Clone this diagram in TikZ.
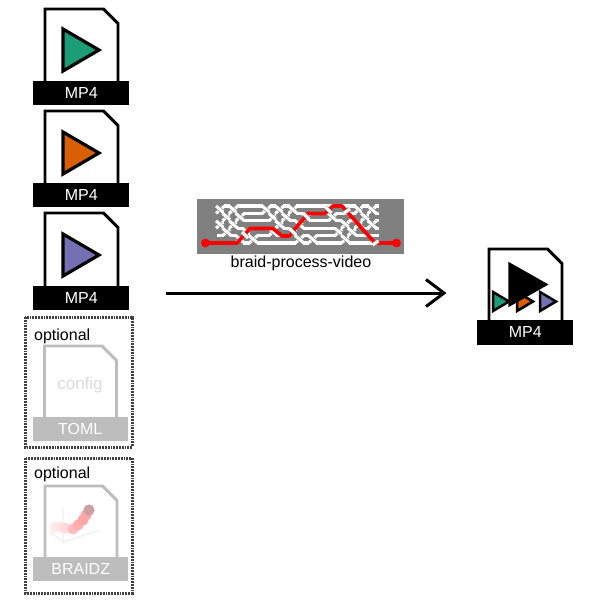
\documentclass[tikz,border=0pt]{standalone}
\usepackage{fontspec}
\setmainfont{Liberation Sans}
\usetikzlibrary{arrows.meta}
\definecolor{dgreen}{HTML}{1B9E77}
\definecolor{dorange}{HTML}{D95F02}
\definecolor{dblue}{HTML}{7570B3}
\definecolor{faint}{gray}{0.74}
\definecolor{braidgray}{gray}{0.5}
\definecolor{dusty}{RGB}{203,160,165}
\newcommand{\outline}[5]{% left, top, right, bottom, colour
  \draw[line width=2.9pt,#5,miter limit=10] (#1,#4) -- (#1,#2) -- (#3-14.5,#2) -- (#3,#2+14.5) -- (#3,#4);}
\newcommand{\tri}[4]{% left, top, bottom, colour
  \draw[tribox,fill=#4] (#1,#2) -- (#1+36,#2/2+#3/2) -- (#1,#3) -- cycle;}
\newcommand{\smalltri}[3]{% left, top, colour
  \draw[line width=2.5pt,fill=#3] (#1,#2) -- (#1+16,#2+9.5) -- (#1,#2+19) -- cycle;}
\tikzset{
  x=1pt,y=-1pt,
  tribox/.style={line width=3.2pt,line join=miter},
  labeltext/.style={font=\fontsize{16}{16}\selectfont,inner sep=0pt},
  blackbar/.style={fill=black,text=white,labeltext,anchor=north west,minimum height=24pt,minimum width=96pt},
  graybar/.style={fill=faint,text=white,labeltext,anchor=north west,minimum height=24pt,minimum width=95pt},
  optbox/.style={draw=black!75,line width=3pt,dash pattern=on 1.8pt off 1pt},
  strand/.style={white,line width=3.1pt},
  halo/.style={braidgray,line width=4.2pt},
}
\newcommand{\bx}[1]{217+6.6*#1}
\newcommand{\by}[1]{206+7.4*#1}
\begin{document}
\begin{tikzpicture}
\useasboundingbox (0,0) rectangle (600,600);
% first MP4
\outline{45}{9}{118}{82}{black}
\tri{63}{29}{71}{dgreen}
\node[blackbar] (bar1) at (33,80.5) {MP4};
% second MP4
\outline{45}{111}{118}{184}{black}
\tri{63}{132}{174}{dorange}
\node[blackbar] (bar2) at (33,182.5) {MP4};
% third MP4
\outline{45}{213}{118}{287}{black}
\tri{63}{234}{276}{dblue}
\node[blackbar] (bar3) at (33,285.5) {MP4};
% optional TOML
\draw[optbox] (25,317) rectangle (132,447);
\node[labeltext,anchor=base west] (opt1) at (34,340) {optional};
\outline{44.5}{346}{116.5}{419}{faint}
\node[labeltext,font=\fontsize{17}{17}\selectfont,text=black!14] (cfg) at (80,385) {config};
\node[graybar] (bar4) at (32.5,417) {TOML};
% optional BRAIDZ
\draw[optbox] (25,458) rectangle (132,593);
\node[labeltext,anchor=base west] (opt2) at (34,478) {optional};
\outline{45}{486}{117}{559}{faint}
\draw[black!8,line width=1pt] (63,508) -- (63,542) -- (100,530) (63,542) -- (50,532);
\foreach \px/\py/\pc in {55/527/red!8,60/527/red!10,65/528/red!14,73/529/red!25,78/525/red!32,83/520/red!35,86/515/red!35}
  \fill[\pc] (\px,\py) circle [radius=5.6pt];
\fill[dusty] (89,510) circle [radius=5.6pt];
\node[graybar] (bar5) at (33,557) {BRAIDZ};
% braid-process-video
\fill[braidgray] (197,199) rectangle (404,254);
\foreach \l in {0,...,5}
  \draw[strand] (\bx{0},\by{\l}) -- (\bx{24.6},\by{\l});
\foreach \c/\l in {0/0,0/2,1/1,1/3,2/2,2/0,3/4,3/1,4/3,5/4,7/0,8/1,8/3,9/0,9/2,10/1,11/3,11/0,12/2,12/4,13/1,14/4,17/1,18/3,19/2,19/4,20/3,21/0,21/2,22/1,23/0,23/2}{
  \fill[braidgray] (\bx{\c},\by{\l}-2.2) rectangle (\bx{\c}+6.6,\by{\l}+9.6);
  \draw[strand] (\bx{\c}-1,\by{\l}+7.4) -- (\bx{\c}+7.6,\by{\l});
  \draw[halo,line cap=butt] (\bx{\c}+1.4,\by{\l}+1.6) -- (\bx{\c}+5.2,\by{\l}+5.8);
  \draw[strand] (\bx{\c}-1,\by{\l}) -- (\bx{\c}+7.6,\by{\l}+7.4);
}
\coordinate (redstart) at (205.5,243);
\coordinate (redend) at (396.5,243);
\draw[red,line width=3.6pt,line join=round] (redstart) -- (237,243) -- (250,228.5) -- (273,228.5) -- (282,236) -- (289,236) -- (308,213.5) -- (325,213.5) -- (333,206) -- (342,206) -- (375,243) -- (redend);
\fill[red] (redstart) circle [radius=4.4pt] (redend) circle [radius=4.4pt];
% strands passing over the red one
\foreach \cx/\cy/\sx/\sy in {245/235/2.5/2.5,293/232/2.5/2.5,306/216/2.5/2.5,328.5/210/2.5/2.5,347/211/2.5/-2.5,375.5/243/2.5/-2.5}{
  \draw[halo] (\cx-\sx,\cy-\sy) -- (\cx+\sx,\cy+\sy);
  \draw[strand] (\cx-\sx-.5,\cy-\sy-.5) -- (\cx+\sx+.5,\cy+\sy+.5);
}
\node[labeltext,anchor=base] (bpv) at (301,267) {braid-process-video};
% arrow
\coordinate (arrowstart) at (166,293);
\coordinate (arrowend) at (444,293);
\coordinate (headup) at (426,279.5);
\coordinate (headdown) at (426,306.5);
\draw[line width=3pt] (arrowstart) -- (arrowend);
\draw[line width=3pt,miter limit=10] (headup) -- (arrowend) -- (headdown);
% output MP4
\outline{489}{249}{562}{321}{black}
\smalltri{493}{292}{dgreen}
\smalltri{517}{292}{dorange}
\smalltri{540}{292}{dblue}
\draw[line width=1.5pt,fill=black] (509,263) -- (547,284.5) -- (509,306) -- cycle;
\node[blackbar,minimum height=25pt] (bar6) at (477,319.5) {MP4};
\end{tikzpicture}
\end{document}
